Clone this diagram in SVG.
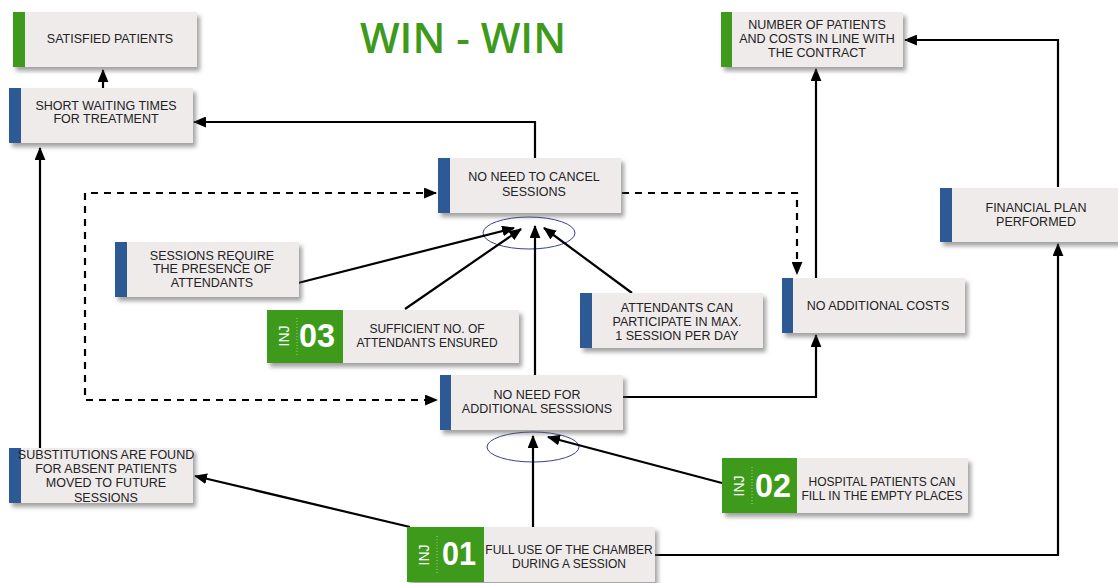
<svg xmlns="http://www.w3.org/2000/svg" width="1118" height="583" viewBox="0 0 1118 583">
  <defs>
    <filter id="shadow" x="-10%" y="-20%" width="125%" height="160%">
      <feDropShadow dx="3" dy="4" stdDeviation="2" flood-color="#555" flood-opacity="0.55"/>
    </filter>
    <marker id="arrow" viewBox="0 0 12 10" refX="11" refY="5" markerWidth="13" markerHeight="11" markerUnits="userSpaceOnUse" orient="auto-start-reverse">
      <path d="M0,0 L12,5 L0,10 Z" fill="#000"/>
    </marker>
  </defs>
  <style>
    .box { fill: #efebeb; filter: url(#shadow); }
    .blue { fill: #2d5a94; }
    .green { fill: #3e9a1b; }
    .lbl { font-family: "Liberation Sans", Arial, sans-serif; font-size: 12.5px; fill: #222; text-anchor: middle; }
    .injl { font-family: "Liberation Sans", Arial, sans-serif; font-size: 12px; fill: #222; text-anchor: middle; }
    .num { font-family: "Liberation Sans", Arial, sans-serif; font-size: 34px; font-weight: bold; fill: #fff; }
    .inj { font-family: "Liberation Sans", Arial, sans-serif; font-size: 14px; fill: #fff; text-anchor: middle; }
    .dots { stroke: #9fd07f; stroke-width: 1; stroke-dasharray: 1 2; }
    .title { font-family: "Open Sans", "Liberation Sans", sans-serif; font-size: 42px; font-weight: 600; fill: #3e9a1b; text-anchor: middle; }
    .conn { fill: none; stroke: #000; stroke-width: 2.2; }
    .dash { stroke-dasharray: 7 6; }
    .ring { fill: none; stroke: #3a3f8f; stroke-width: 1; }
  </style>

  <rect width="1118" height="583" fill="#fff"/>

  <text class="title" x="463" y="53">WIN - WIN</text>

  <!-- connectors -->
  <g id="connectors">
    <ellipse class="ring" cx="529" cy="233" rx="46" ry="16"/>
    <ellipse class="ring" cx="533" cy="447" rx="46" ry="15"/>
    <path class="conn" d="M103,88 V70" marker-end="url(#arrow)"/>
    <path class="conn" d="M535,158 V122 H194" marker-end="url(#arrow)"/>
    <path class="conn" d="M40,448 V148" marker-end="url(#arrow)"/>
    <path class="conn dash" d="M436,193 H85 V400 H437" marker-start="url(#arrow)" marker-end="url(#arrow)"/>
    <path class="conn dash" d="M622,193 H797 V274" marker-end="url(#arrow)"/>
    <path class="conn" d="M298,283 L514,228" marker-end="url(#arrow)"/>
    <path class="conn" d="M405,309 L521,229" marker-end="url(#arrow)"/>
    <path class="conn" d="M535,375 V226" marker-end="url(#arrow)"/>
    <path class="conn" d="M632,293 L544,228" marker-end="url(#arrow)"/>
    <path class="conn" d="M623,397 H816 V335" marker-end="url(#arrow)"/>
    <path class="conn" d="M816,278 V69" marker-end="url(#arrow)"/>
    <path class="conn" d="M1058,187 V40 H905" marker-end="url(#arrow)"/>
    <path class="conn" d="M655,555 H1058 V244" marker-end="url(#arrow)"/>
    <path class="conn" d="M533,527 V436" marker-end="url(#arrow)"/>
    <path class="conn" d="M722,483 L548,437" marker-end="url(#arrow)"/>
    <path class="conn" d="M410,527 L195,476" marker-end="url(#arrow)"/>
  </g>

  <!-- nodes -->
  <g id="satisfied-patients">
    <rect class="box" x="13" y="12" width="184" height="55"/>
    <rect class="green" x="13" y="12" width="12" height="55"/>
    <text class="lbl" x="110" y="43">SATISFIED PATIENTS</text>
  </g>

  <g id="short-waiting">
    <rect class="box" x="9" y="88" width="184" height="55"/>
    <rect class="blue" x="9" y="88" width="12" height="55"/>
    <text class="lbl" x="106" y="110">SHORT WAITING TIMES</text>
    <text class="lbl" x="106" y="123">FOR TREATMENT</text>
  </g>

  <g id="contract">
    <rect class="box" x="721" y="12" width="182" height="55"/>
    <rect class="green" x="721" y="12" width="11" height="55"/>
    <text class="lbl" x="817" y="29">NUMBER OF PATIENTS</text>
    <text class="lbl" x="817" y="43">AND COSTS IN LINE WITH</text>
    <text class="lbl" x="817" y="57">THE CONTRACT</text>
  </g>

  <g id="no-cancel">
    <rect class="box" x="438" y="158" width="183" height="55"/>
    <rect class="blue" x="438" y="158" width="12" height="55"/>
    <text class="lbl" x="534" y="181">NO NEED TO CANCEL</text>
    <text class="lbl" x="534" y="196">SESSIONS</text>
  </g>

  <g id="sessions-require">
    <rect class="box" x="115" y="242" width="184" height="55"/>
    <rect class="blue" x="115" y="242" width="12" height="55"/>
    <text class="lbl" x="212" y="260">SESSIONS REQUIRE</text>
    <text class="lbl" x="212" y="273">THE PRESENCE OF</text>
    <text class="lbl" x="212" y="287">ATTENDANTS</text>
  </g>

  <g id="inj-03">
    <rect class="box" x="267" y="310" width="252" height="53"/>
    <rect class="green" x="267" y="310" width="76" height="53"/>
    <text class="inj" transform="translate(289,336) rotate(-90)">INJ</text>
    <line class="dots" x1="297" y1="318" x2="297" y2="356"/>
    <text class="num" x="299" y="347" textLength="36" lengthAdjust="spacingAndGlyphs">03</text>
    <text class="injl" x="427" y="333">SUFFICIENT NO. OF</text>
    <text class="injl" x="427" y="347">ATTENDANTS ENSURED</text>
  </g>

  <g id="attendants-max">
    <rect class="box" x="580" y="293" width="183" height="55"/>
    <rect class="blue" x="580" y="293" width="12" height="55"/>
    <text class="lbl" x="677" y="312">ATTENDANTS CAN</text>
    <text class="lbl" x="677" y="326">PARTICIPATE IN MAX.</text>
    <text class="lbl" x="677" y="340">1 SESSION PER DAY</text>
  </g>

  <g id="no-additional-costs">
    <rect class="box" x="782" y="278" width="183" height="55"/>
    <rect class="blue" x="782" y="278" width="11" height="55"/>
    <text class="lbl" x="878" y="310">NO ADDITIONAL COSTS</text>
  </g>

  <g id="financial-plan">
    <rect class="box" x="940" y="188" width="178" height="54"/>
    <rect class="blue" x="940" y="188" width="12" height="54"/>
    <text class="lbl" x="1036" y="212">FINANCIAL PLAN</text>
    <text class="lbl" x="1036" y="226">PERFORMED</text>
  </g>

  <g id="no-additional-sessions">
    <rect class="box" x="440" y="375" width="183" height="55"/>
    <rect class="blue" x="440" y="375" width="11" height="55"/>
    <text class="lbl" x="537" y="399">NO NEED FOR</text>
    <text class="lbl" x="537" y="413">ADDITIONAL SESSSIONS</text>
  </g>

  <g id="substitutions">
    <rect class="box" x="9" y="448" width="184" height="55"/>
    <rect class="blue" x="9" y="448" width="12" height="55"/>
    <text class="lbl" x="106" y="459">SUBSTITUTIONS ARE FOUND</text>
    <text class="lbl" x="106" y="473">FOR ABSENT PATIENTS</text>
    <text class="lbl" x="106" y="487">MOVED TO FUTURE</text>
    <text class="lbl" x="106" y="502">SESSIONS</text>
  </g>

  <g id="inj-01">
    <rect class="box" x="407" y="527" width="248" height="55"/>
    <rect class="green" x="407" y="527" width="77" height="55"/>
    <text class="inj" transform="translate(429,555) rotate(-90)">INJ</text>
    <line class="dots" x1="437" y1="536" x2="437" y2="574"/>
    <text class="num" x="442" y="565" textLength="34" lengthAdjust="spacingAndGlyphs">01</text>
    <text class="injl" x="569" y="554">FULL USE OF THE CHAMBER</text>
    <text class="injl" x="569" y="568">DURING A SESSION</text>
  </g>

  <g id="inj-02">
    <rect class="box" x="722" y="458" width="246" height="55"/>
    <rect class="green" x="722" y="458" width="75" height="55"/>
    <text class="inj" transform="translate(744,486) rotate(-90)">INJ</text>
    <line class="dots" x1="752" y1="467" x2="752" y2="505"/>
    <text class="num" x="755" y="497" textLength="36" lengthAdjust="spacingAndGlyphs">02</text>
    <text class="injl" x="882" y="486">HOSPITAL PATIENTS CAN</text>
    <text class="injl" x="882" y="500">FILL IN THE EMPTY PLACES</text>
  </g>
</svg>
